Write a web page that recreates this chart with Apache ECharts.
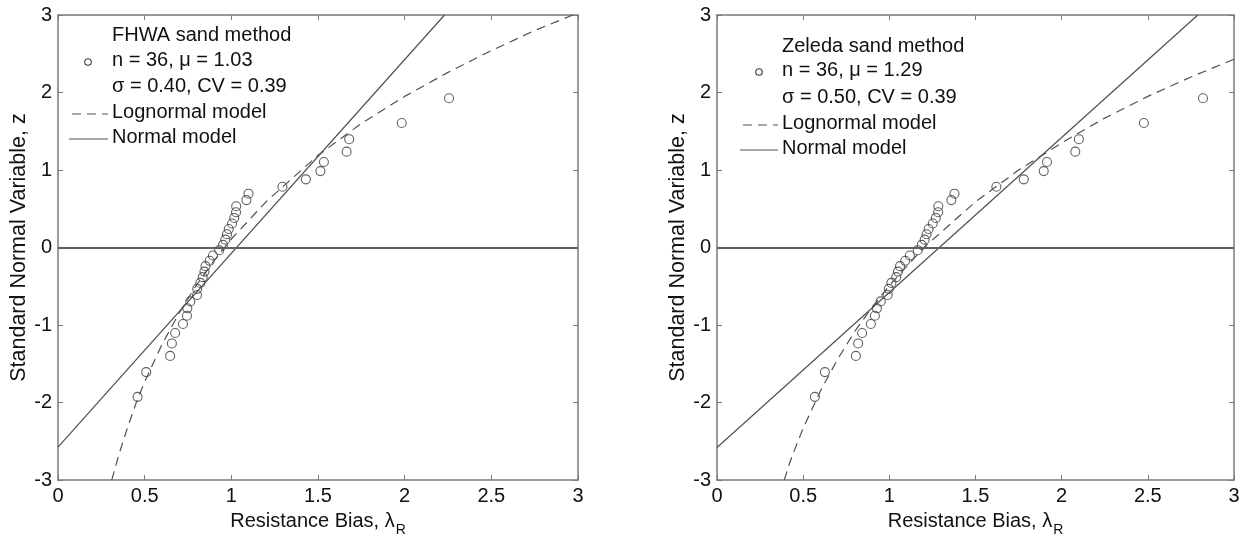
<!DOCTYPE html>
<html>
<head>
<meta charset="utf-8">
<script src="https://cdn.jsdelivr.net/npm/echarts@6/dist/echarts.min.js"></script>
<style>
html,body{margin:0;padding:0;background:#fff;}
#chart{width:1248px;height:542px;}
</style>
</head>
<body>
<div id="chart"></div>
<script>
// Standard normal variable (plotting positions), shared by both panels
const zValues = [-1.926,-1.607,-1.398,-1.237,-1.103,-0.986,-0.880,-0.784,-0.695,-0.612,-0.533,-0.456,-0.382,-0.310,-0.240,-0.171,-0.102,-0.034,
                 0.034,0.102,0.171,0.240,0.310,0.382,0.456,0.533,0.612,0.695,0.784,0.880,0.986,1.103,1.237,1.398,1.607,1.926];
// Resistance bias, FHWA sand method (sorted)
const fhwaBias = [0.459,0.509,0.647,0.657,0.676,0.721,0.744,0.746,0.763,0.802,0.803,0.821,0.835,0.845,0.851,0.875,0.894,0.930,
                  0.952,0.965,0.975,0.985,1.004,1.017,1.027,1.028,1.087,1.099,1.295,1.430,1.514,1.534,1.665,1.680,1.983,2.256];
// Resistance bias, Zeleda sand method (sorted)
const zeledaBias = [0.568,0.626,0.806,0.819,0.842,0.893,0.916,0.928,0.950,0.990,0.997,1.012,1.040,1.050,1.062,1.092,1.119,1.165,
                    1.188,1.205,1.216,1.228,1.252,1.270,1.283,1.284,1.360,1.378,1.621,1.780,1.896,1.915,2.079,2.100,2.477,2.820];
// Fitted model curves [bias, z]
const fhwaLognormal = [[0.31,-3.0],[0.33,-2.84],[0.35,-2.68],[0.40,-2.33],[0.45,-2.01],[0.50,-1.73],[0.60,-1.25],[0.70,-0.84],[0.80,-0.48],
                       [0.90,-0.17],[1.00,0.11],[1.20,0.59],[1.50,1.19],[1.75,1.60],[2.00,1.95],[2.25,2.26],[2.50,2.54],[2.75,2.80],[2.97,3.0]];
const fhwaNormal = [[0,-2.575],[2.23,3.0]];
const zeledaLognormal = [[0.39,-3.0],[0.42,-2.79],[0.45,-2.61],[0.50,-2.33],[0.60,-1.85],[0.70,-1.44],[0.80,-1.08],[0.90,-0.77],[1.00,-0.49],
                         [1.20,0.00],[1.50,0.59],[1.75,1.00],[2.00,1.35],[2.25,1.67],[2.50,1.95],[2.75,2.20],[3.00,2.43]];
const zeledaNormal = [[0,-2.58],[2.79,3.0]];
const legendLeft = ['FHWA sand method','n = 36, μ = 1.03','σ = 0.40, CV = 0.39','Lognormal model','Normal model'];
const legendRight = ['Zeleda sand method','n = 36, μ = 1.29','σ = 0.50, CV = 0.39','Lognormal model','Normal model'];

const FONT = 'Liberation Sans, Arial, Helvetica, sans-serif';
const TXT = '#111111';
const AX = '#7a7a7a';
const LINE = '#505050';
const FS = 20;

function pairs(xs, zs){ return xs.map((x,i)=>[x, zs[i]]); }

function xAxes(grid){
  const common = {type:'value', gridIndex:grid, min:0, max:3, interval:0.5,
    axisLine:{show:true, onZero:false, lineStyle:{color:AX, width:1.5}},
    axisTick:{show:true, inside:true, length:5, lineStyle:{color:AX, width:1}},
    splitLine:{show:false}};
  return [
    Object.assign({}, common, {position:'bottom',
      axisLabel:{show:true, margin:6, color:TXT, fontSize:FS, fontFamily:FONT},
      name:'{m|Resistance Bias, λ}{s|R}', nameLocation:'middle', nameGap:26,
      nameTextStyle:{color:TXT, fontFamily:FONT, rich:{
        m:{fontSize:FS, fontFamily:FONT, color:TXT, verticalAlign:'top', lineHeight:22},
        s:{fontSize:14, fontFamily:FONT, color:TXT, verticalAlign:'top', lineHeight:16, padding:[12,0,0,1]}}}}),
    Object.assign({}, common, {position:'top', axisLabel:{show:false}})
  ];
}
function yAxes(grid){
  const common = {type:'value', gridIndex:grid, min:-3, max:3, interval:1,
    axisLine:{show:true, onZero:false, lineStyle:{color:AX, width:1.5}},
    axisTick:{show:true, inside:true, length:5, lineStyle:{color:AX, width:1}},
    splitLine:{show:false}};
  return [
    Object.assign({}, common, {position:'left',
      axisLabel:{show:true, margin:6, color:TXT, fontSize:FS, fontFamily:FONT},
      name:'Standard Normal Variable, z', nameLocation:'middle', nameGap:27, nameRotate:90,
      nameTextStyle:{color:TXT, fontSize:21.5, fontFamily:FONT}}),
    Object.assign({}, common, {position:'right', axisLabel:{show:false}})
  ];
}

function panelSeries(xi, yi, bias, logn, norm){
  return [
    {type:'line', xAxisIndex:xi, yAxisIndex:yi, data:norm, symbol:'none', silent:true,
     lineStyle:{color:LINE, width:1.2, type:'solid'},
     markLine:{silent:true, symbol:'none', label:{show:false}, data:[{yAxis:0}],
       lineStyle:{color:'#606060', width:2, type:'solid'}}},
    {type:'line', xAxisIndex:xi, yAxisIndex:yi, data:logn, symbol:'none', silent:true,
     lineStyle:{color:LINE, width:1.2, type:[9,6]}},
    {type:'scatter', xAxisIndex:xi, yAxisIndex:yi, data:pairs(bias, zValues), symbol:'circle', symbolSize:9,
     itemStyle:{color:'rgba(255,255,255,0)', borderColor:'#3a3a3a', borderWidth:1.1}}
  ];
}

function legendGraphics(texts, tx, ys, cx, dash, solid){
  const g = [];
  texts.forEach((t,i)=>{
    g.push({type:'text', left:tx, top:ys[i]-12, silent:true,
      style:{text:t, fill:TXT, font:FS+'px '+FONT, textVerticalAlign:'top'}});
  });
  g.push({type:'circle', shape:{cx:cx, cy:ys[1], r:3.3}, silent:true,
    style:{fill:'rgba(0,0,0,0)', stroke:'#3a3a3a', lineWidth:1.1}});
  g.push({type:'line', shape:{x1:dash[0], y1:ys[3], x2:dash[1], y2:ys[3]}, silent:true,
    style:{stroke:LINE, lineWidth:1.2, lineDash:[9,6]}});
  g.push({type:'line', shape:{x1:solid[0], y1:ys[4], x2:solid[1], y2:ys[4]}, silent:true,
    style:{stroke:LINE, lineWidth:1.2}});
  return g;
}

const chart = echarts.init(document.getElementById('chart'), null, {renderer:'canvas'});
chart.setOption({
  animation:false,
  backgroundColor:'#ffffff',
  textStyle:{fontFamily:FONT},
  grid:[
    {left:58, right:670, top:15, bottom:59},
    {left:717, right:14, top:15, bottom:59}
  ],
  xAxis:[].concat(xAxes(0), xAxes(1)),
  yAxis:[].concat(yAxes(0), yAxes(1)),
  series:[].concat(
    panelSeries(0,0,fhwaBias,fhwaLognormal,fhwaNormal),
    panelSeries(2,2,zeledaBias,zeledaLognormal,zeledaNormal)
  ),
  graphic:[].concat(
    legendGraphics(legendLeft, 112, [37,62,88,114,139], 88, [72,108], [69,108]),
    legendGraphics(legendRight, 782, [48,72,99,125,150], 759, [743,778], [740,778])
  )
});
</script>
</body>
</html>
